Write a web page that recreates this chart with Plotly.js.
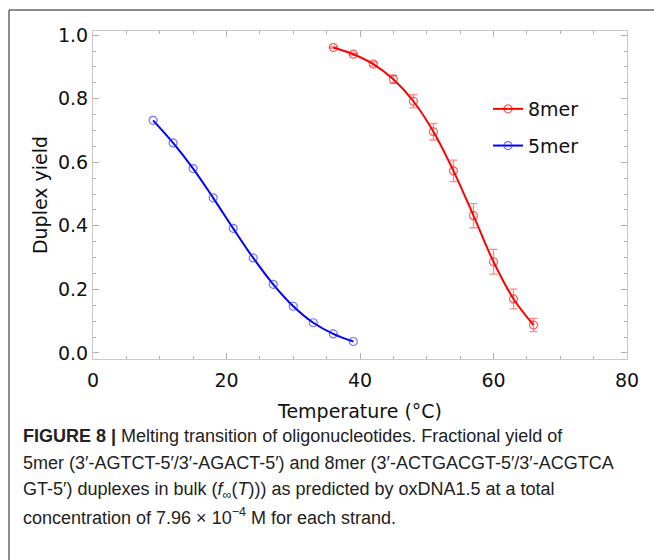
<!DOCTYPE html>
<html>
<head>
<meta charset="utf-8">
<script src="https://cdn.plot.ly/plotly-3.0.1.min.js"></script>
<style>
html,body{margin:0;padding:0;background:#fff;}
#chart{width:654px;height:560px;}
</style>
</head>
<body>
<div id="chart"></div>
<script>
// Data
const temp8 = [36, 39, 42, 45, 48, 51, 54, 57, 60, 63, 66];
const yield8 = [0.961, 0.940, 0.909, 0.861, 0.792, 0.696, 0.573, 0.432, 0.287, 0.170, 0.088];
const err8 = [0.002, 0.003, 0.006, 0.013, 0.021, 0.026, 0.034, 0.038, 0.039, 0.031, 0.021];
const temp5 = [9, 12, 15, 18, 21, 24, 27, 30, 33, 36, 39];
const yield5 = [0.732, 0.661, 0.580, 0.488, 0.392, 0.299, 0.216, 0.147, 0.095, 0.060, 0.036];
const xTicks = [0, 20, 40, 60, 80];
const yTicks = [0.0, 0.2, 0.4, 0.6, 0.8, 1.0];
const captionLines = [
  "<b>FIGURE 8 |</b> Melting transition of oligonucleotides. Fractional yield of",
  "5mer (3′-AGTCT-5′/3′-AGACT-5′) and 8mer (3′-ACTGACGT-5′/3′-ACGTCA",
  "GT-5′) duplexes in bulk (<i>f</i><sub>∞</sub>(<i>T</i>))) as predicted by oxDNA1.5 at a total",
  "concentration of 7.96 × 10<sup>−4</sup> M for each strand."
];

// pixel -> paper helpers (plot area: x 93..627, y 31..359)
const L = 93, R = 27, T = 31, B = 201, W = 654, H = 560;
const pw = W - L - R, ph = H - T - B;
const px = v => (v - L) / pw;
const py = v => (H - B - v) / ph;

const traces = [
  {
    x: temp8, y: yield8, name: '8mer', legendgroup: 'a',
    mode: 'lines+markers', type: 'scatter',
    line: {color: '#ff0000', width: 2, shape: 'spline'},
    marker: {symbol: 'circle-open', size: 8, color: 'rgba(255,0,0,0.65)', line: {width: 1.2}},
    error_y: {type: 'data', array: err8, visible: true, color: 'rgba(255,60,60,0.6)', thickness: 1.3, width: 4}
  },
  {
    x: temp5, y: yield5, name: '5mer', legendgroup: 'b',
    mode: 'lines+markers', type: 'scatter',
    line: {color: '#0000ff', width: 2, shape: 'spline'},
    marker: {symbol: 'circle-open', size: 8, color: 'rgba(40,40,255,0.65)', line: {width: 1.2}}
  }
];

const axisCommon = {
  showline: true, linecolor: '#c8c8c8', linewidth: 1,
  mirror: 'allticks', ticks: 'inside', ticklen: 6, tickcolor: '#b0b0b0', tickwidth: 1,
  showgrid: false, zeroline: false,
  tickfont: {family: 'DejaVu Sans', size: 19, color: '#111'}
};

const annotations = captionLines.map((t, i) => ({
  text: t, xref: 'paper', yref: 'paper', x: px(21), y: py([436, 463, 490, 516][i]),
  xanchor: 'left', yanchor: 'middle', showarrow: false, align: 'left',
  font: {family: 'Liberation Sans, sans-serif', size: 18, color: '#222'}
}));

const layout = {
  width: W, height: H,
  margin: {l: L, r: R, t: T, b: B, pad: 0},
  paper_bgcolor: '#fff', plot_bgcolor: '#fff',
  font: {family: 'DejaVu Sans', color: '#111'},
  xaxis: Object.assign({}, axisCommon, {
    range: [0, 80], tickvals: xTicks, ticklabelstandoff: 4,
    minor: {dtick: 5, ticks: 'inside', ticklen: 3, tickcolor: '#b0b0b0'},
    title: {text: 'Temperature (°C)', font: {family: 'DejaVu Sans', size: 19, color: '#111'}, standoff: 14}
  }),
  yaxis: Object.assign({}, axisCommon, {
    range: [-0.019, 1.013], tickvals: yTicks, tickformat: '.1f',
    minor: {dtick: 0.05, ticks: 'inside', ticklen: 3, tickcolor: '#b0b0b0'},
    title: {text: 'Duplex yield', font: {family: 'DejaVu Sans', size: 19, color: '#111'}, standoff: 5}
  }),
  showlegend: true,
  legend: {
    x: px(488), y: py(90), xanchor: 'left', yanchor: 'top',
    bgcolor: 'rgba(0,0,0,0)', font: {family: 'DejaVu Sans', size: 19, color: '#111'},
    tracegroupgap: 9, itemwidth: 30, traceorder: 'grouped'
  },
  annotations: annotations,
  shapes: [
    {type: 'line', xref: 'paper', yref: 'paper', x0: px(9), x1: px(9), y0: py(10), y1: py(560), line: {color: '#666', width: 1.5}},
    {type: 'line', xref: 'paper', yref: 'paper', x0: px(9), x1: px(654), y0: py(10), y1: py(10), line: {color: '#666', width: 1.5}}
  ]
};

Plotly.newPlot('chart', traces, layout, {displayModeBar: false, staticPlot: true});
</script>
</body>
</html>
